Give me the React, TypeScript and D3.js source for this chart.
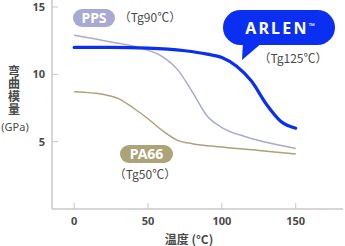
import React from "react";
import * as d3 from "d3";

const xTicks = [0, 50, 100, 150];
const yTicks = [5, 10, 15];

const arlenT = [0, 25, 50, 75, 90, 100, 110, 120, 130, 140, 150];
const arlenV = [12.0, 12.0, 11.95, 11.75, 11.5, 11.25, 10.6, 9.5, 7.8, 6.5, 6.0];

const ppsT = [0, 25, 45, 60, 70, 80, 90, 100, 115, 130, 150];
const ppsV = [12.9, 12.4, 11.95, 11.3, 10.35, 8.7, 6.9, 6.05, 5.4, 4.95, 4.5];

const pa66T = [0, 20, 30, 40, 50, 60, 70, 80, 100, 125, 150];
const pa66V = [8.7, 8.5, 8.2, 7.5, 6.7, 5.8, 5.1, 4.85, 4.6, 4.35, 4.08];

const yLabel = "弯曲模量";

const BLUE = "#0a2ff0";
const PURPLE = "#a9a9d3";
const KHAKI = "#ada278";
const AXIS = "#c8c8c8";
const TXT = "#4a4a4a";
const FONT = "'Noto Sans', 'Noto Sans CJK JP', sans-serif";
const CJK = "'Noto Sans CJK SC', 'Noto Sans', sans-serif";

export default function App() {
  const x = d3.scaleLinear().domain([-15, 182]).range([52, 343]);
  const y = d3.scaleLinear().domain([0, 15]).range([209, 7]);
  const line = d3
    .line<[number, number]>()
    .x((d) => x(d[0]))
    .y((d) => y(d[1]))
    .curve(d3.curveMonotoneX);
  const pts = (t: number[], v: number[]) => t.map((tt, i) => [tt, v[i]] as [number, number]);

  return (
    <svg
      width={345}
      height={246}
      style={{ position: "absolute", left: 0, top: 0, background: "#fff" }}
      fontFamily={FONT}
    >
      {/* axes */}
      <line x1={52} x2={52} y1={0} y2={y(0)} stroke={AXIS} strokeWidth={1.5} />
      <line x1={52} x2={343} y1={y(0)} y2={y(0)} stroke={AXIS} strokeWidth={1.5} />
      {yTicks.map((t) => (
        <g key={"y" + t}>
          <line x1={52} x2={58} y1={y(t)} y2={y(t)} stroke={AXIS} strokeWidth={1} />
          <text x={45} y={y(t)} dy="0.35em" textAnchor="end" fontSize={11} fontWeight={700} fill={TXT}>
            {t}
          </text>
        </g>
      ))}
      {xTicks.map((t) => (
        <g key={"x" + t}>
          <line x1={x(t)} x2={x(t)} y1={y(0) - 6} y2={y(0)} stroke={AXIS} strokeWidth={1} />
          <text x={x(t)} y={221} dy="0.35em" textAnchor="middle" fontSize={11} fontWeight={700} fill={TXT}>
            {t}
          </text>
        </g>
      ))}
      <text x={189} y={240} dy="0.35em" textAnchor="middle" fontSize={12} fontWeight={700} fill={TXT} fontFamily={CJK}>
        温度 (°C)
      </text>
      <text
        x={14}
        y={65}
        fontSize={12}
        fontWeight={700}
        fill={TXT}
        fontFamily={CJK}
        letterSpacing={0.7}
        style={{ writingMode: "vertical-rl", textOrientation: "upright" }}
      >
        {yLabel}
      </text>
      <text x={15} y={127} dy="0.35em" textAnchor="middle" fontSize={11} fill={TXT}>
        (GPa)
      </text>

      {/* curves */}
      <path d={line(pts(pa66T, pa66V)) || ""} fill="none" stroke={KHAKI} strokeWidth={1.5} />
      <path d={line(pts(ppsT, ppsV)) || ""} fill="none" stroke={PURPLE} strokeWidth={1.5} />
      <path d={line(pts(arlenT, arlenV)) || ""} fill="none" stroke={BLUE} strokeWidth={3.2} strokeLinecap="round" />

      {/* PPS label */}
      <rect x={73} y={9} width={42} height={18} rx={9} fill={PURPLE} />
      <text x={94} y={18} dy="0.36em" textAnchor="middle" fontSize={14} fontWeight={700} fill="#fff">
        PPS
      </text>
      <text x={150} y={18} dy="0.35em" textAnchor="middle" fontSize={12} fill={TXT} fontFamily={CJK}>
        （Tg90℃）
      </text>

      {/* PA66 label */}
      <rect x={120} y={145} width={53} height={18} rx={9} fill={KHAKI} />
      <text x={146.5} y={154} dy="0.36em" textAnchor="middle" fontSize={14} fontWeight={700} fill="#fff">
        PA66
      </text>
      <text x={145} y={175} dy="0.35em" textAnchor="middle" fontSize={12} fill={TXT} fontFamily={CJK}>
        （Tg50℃）
      </text>

      {/* ARLEN bubble */}
      <rect x={223} y={10} width={112} height={35} rx={17.5} fill={BLUE} />
      <path d="M243,42 L263,42 L242,60 Z" fill={BLUE} />
      <text x={280} y={28} dy="0.36em" textAnchor="middle" fontSize={16} fontWeight={700} fill="#fff" letterSpacing={2.2}>
        ARLEN
        <tspan fontSize={8} dy="-0.55em" letterSpacing={0}>™</tspan>
      </text>
      <text x={293} y={59} dy="0.35em" textAnchor="middle" fontSize={12} fill={TXT} fontFamily={CJK}>
        （Tg125℃）
      </text>
    </svg>
  );
}
